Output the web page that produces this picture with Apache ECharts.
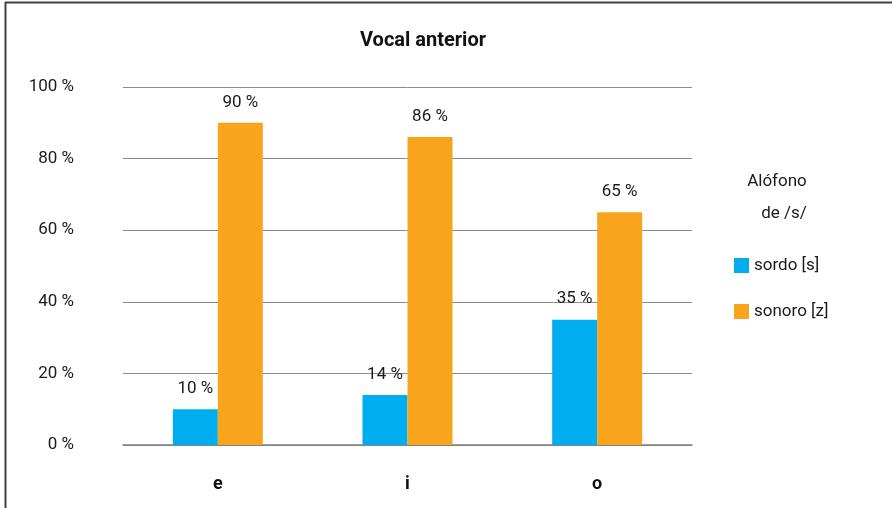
<!DOCTYPE html>
<html>
<head>
<meta charset="utf-8">
<script src="https://cdn.jsdelivr.net/npm/echarts@6/dist/echarts.min.js"></script>
<style>
  html, body { margin: 0; padding: 0; background: #fff; }
  #main { width: 892px; height: 508px; }
</style>
</head>
<body>
<div id="main"></div>
<script>
const categories = ['e', 'i', 'o']
const sordo = [10, 14, 35]
const sonoro = [90, 86, 65]
const seriesNames = ['sordo [s]', 'sonoro [z]']
const colors = ['#00aeef', '#f8a51d']

const font = 'Roboto, "Liberation Sans", sans-serif'

var myChart = echarts.init(document.getElementById('main'))

const barLabel = {
  show: true,
  position: 'top',
  distance: 12,
  formatter: (p) => p.value + ' %',
  color: '#1a1a1a',
  fontFamily: font,
  fontSize: 17,
}

let option = {
  backgroundColor: '#fff',
  animation: false,
  title: {
    text: 'Vocal anterior',
    left: 360,
    top: 31,
    padding: 0,
    textStyle: { fontFamily: font, fontWeight: 'bold', fontSize: 20, color: '#111' },
  },
  legend: {
    orient: 'vertical',
    left: 734,
    top: 257,
    padding: 0,
    itemWidth: 15,
    itemHeight: 15,
    itemGap: 29,
    icon: 'rect',
    textStyle: { fontFamily: font, fontSize: 17, color: '#1a1a1a' },
    data: seriesNames,
  },
  grid: {
    left: 123,
    right: 200,
    top: 87,
    bottom: 63,
  },
  xAxis: {
    type: 'category',
    data: categories,
    axisTick: { show: false },
    axisLine: { lineStyle: { color: '#7f7f7f', width: 1.5 } },
    axisLabel: {
      margin: 30,
      fontFamily: font,
      fontWeight: 'bold',
      fontSize: 18,
      color: '#111',
    },
  },
  yAxis: {
    type: 'value',
    min: 0,
    max: 100,
    interval: 20,
    axisLine: { show: false },
    axisTick: { show: false },
    axisLabel: {
      margin: 49,
      formatter: '{value} %',
      fontFamily: font,
      fontSize: 17,
      color: '#1a1a1a',
    },
    splitLine: { lineStyle: { color: '#8c8c8c', width: 1 } },
  },
  series: [
    {
      name: seriesNames[0],
      type: 'bar',
      data: sordo,
      barWidth: 45,
      barGap: '0%',
      itemStyle: { color: colors[0] },
      label: barLabel,
    },
    {
      name: seriesNames[1],
      type: 'bar',
      data: sonoro,
      barWidth: 45,
      itemStyle: { color: colors[1] },
      label: barLabel,
    },
  ],
  graphic: [
    // legend heading
    {
      type: 'text',
      x: 777,
      y: 182,
      style: { text: 'Alófono', textAlign: 'center', textVerticalAlign: 'middle', font: '17px ' + font, fill: '#1a1a1a' },
    },
    {
      type: 'text',
      x: 784,
      y: 214,
      style: { text: 'de /s/', textAlign: 'center', textVerticalAlign: 'middle', font: '17px ' + font, fill: '#1a1a1a' },
    },
    // frame: top and left edges only
    {
      type: 'line',
      shape: { x1: 5, y1: 2.5, x2: 892, y2: 2.5 },
      style: { stroke: '#404040', lineWidth: 2 },
    },
    {
      type: 'line',
      shape: { x1: 5.5, y1: 2, x2: 5.5, y2: 508 },
      style: { stroke: '#404040', lineWidth: 2 },
    },
  ],
}

myChart.setOption(option)
</script>
</body>
</html>
